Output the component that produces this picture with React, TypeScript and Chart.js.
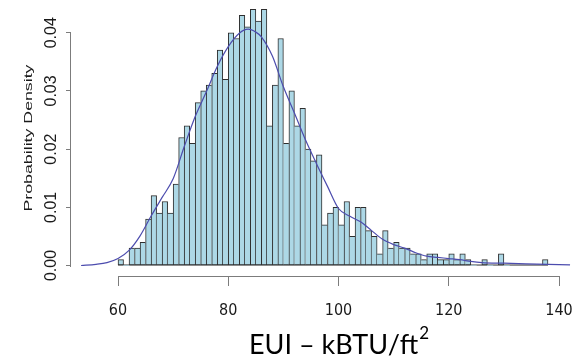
import React, { useEffect, useRef } from "react";
import { Chart, registerables } from "chart.js";

Chart.register(...registerables);

// ---- data ----
const binLefts = [
  60, 61, 62, 63, 64, 65, 66, 67, 68, 69, 70, 71, 72, 73, 74, 75, 76, 77, 78, 79,
  80, 81, 82, 83, 84, 85, 86, 87, 88, 89, 90, 91, 92, 93, 94, 95, 96, 97, 98, 99,
  100, 101, 102, 103, 104, 105, 106, 107, 108, 109, 110, 111, 112, 113, 114, 115, 116, 117, 118, 119,
  120, 121, 122, 123, 124, 125, 126, 127, 128, 129, 130, 131, 132, 133, 134, 135, 136, 137,
];
const binDensity = [
  0.001, 0, 0.003, 0.003, 0.004, 0.008, 0.012, 0.009, 0.011, 0.009,
  0.014, 0.022, 0.024, 0.021, 0.028, 0.030, 0.031, 0.033, 0.037, 0.032,
  0.040, 0.039, 0.043, 0.041, 0.044, 0.042, 0.044, 0.024, 0.031, 0.039,
  0.021, 0.030, 0.024, 0.027, 0.020, 0.018, 0.019, 0.007, 0.009, 0.010,
  0.007, 0.011, 0.005, 0.010, 0.010, 0.006, 0.005, 0.002, 0.006, 0.003,
  0.004, 0.003, 0.003, 0.002, 0.002, 0.001, 0.002, 0.002, 0.001, 0.001,
  0.002, 0.001, 0.002, 0.001, 0, 0, 0.001, 0, 0, 0.002,
  0, 0, 0, 0, 0, 0, 0, 0.001,
];
const binWidth = 1;

const curveX = [
  53.3, 56, 58, 60, 62, 64, 66, 68, 70, 72, 74, 76, 78, 80, 82, 83.6, 85, 86, 88, 90,
  92, 94, 96, 98, 100, 102, 104, 106, 108, 110, 112, 114, 116, 118, 120, 122, 124, 126, 130, 134,
  138, 142,
];
const curveY = [
  0, 0.0002, 0.0005, 0.0012, 0.0026, 0.0051, 0.0085, 0.0117, 0.0149, 0.0204,
  0.0256, 0.0298, 0.0342, 0.0376, 0.0399, 0.0406, 0.0401, 0.0393, 0.036, 0.0307,
  0.0262, 0.0216, 0.0175, 0.0136, 0.0098, 0.0085, 0.0075, 0.006, 0.0045, 0.0036,
  0.003, 0.0022, 0.0016, 0.0014, 0.0012, 0.001, 0.0007, 0.0005, 0.0004, 0.0003,
  0.0002, 0.0001,
];

const xTicks = [60, 80, 100, 120, 140];
const yTicks = [0, 0.01, 0.02, 0.03, 0.04];
const yTitle = "Probability Density";
const xTitleMain = "EUI – kBTU/ft";
const xTitleSup = "2";

// ---- styles ----
const BAR_FILL = "#ADD8E6";
const BAR_BORDER = "#2e2e2e";
const CURVE_COLOR = "#4c4cae";
const AXIS_COLOR = "#7c7c7c";
const TEXT_COLOR = "#1a1a1a";

const extraPlugin = {
  id: "extraText",
  beforeDatasetsDraw(chart: any) {
    const { ctx, scales } = chart;
    const x = scales.x;
    const y = scales.y;
    // histogram baseline (zero-height bins)
    const y0 = y.getPixelForValue(0);
    const x1 = x.getPixelForValue(binLefts[0]);
    const x2 = x.getPixelForValue(binLefts[binLefts.length - 1] + binWidth);
    ctx.save();
    ctx.fillStyle = BAR_BORDER;
    ctx.fillRect(x1, y0 - 1, x2 - x1, 1);
    ctx.restore();
  },
  afterDraw(chart: any) {
    const { ctx, scales, chartArea } = chart;
    const x = scales.x;
    const y = scales.y;
    ctx.save();
    // axis lines (R style, spanning ticks only)
    ctx.fillStyle = AXIS_COLOR;
    const xa = Math.round(x.getPixelForValue(xTicks[0]));
    const xb = Math.round(x.getPixelForValue(xTicks[xTicks.length - 1]));
    ctx.fillRect(xa, Math.round(chartArea.bottom), xb - xa + 1, 1);
    const ya = Math.round(y.getPixelForValue(yTicks[yTicks.length - 1]));
    const yb = Math.round(y.getPixelForValue(yTicks[0]));
    ctx.fillRect(Math.round(chartArea.left) - 1, ya, 1, yb - ya + 1);

    // y title (stretched along its length like the reference)
    ctx.fillStyle = TEXT_COLOR;
    ctx.translate(29, 138);
    ctx.rotate(-Math.PI / 2);
    ctx.font = '10px "Liberation Sans", Arial, sans-serif';
    const w = ctx.measureText(yTitle).width;
    ctx.scale(147 / w, 1);
    ctx.textAlign = "center";
    ctx.textBaseline = "middle";
    ctx.fillText(yTitle, 0, 0);
    ctx.restore();

    // x title with superscript
    ctx.save();
    ctx.fillStyle = "#000";
    ctx.textAlign = "left";
    ctx.textBaseline = "alphabetic";
    ctx.font = '27px Lato, "Open Sans", sans-serif';
    const w1 = ctx.measureText(xTitleMain).width;
    ctx.font = '17px Lato, "Open Sans", sans-serif';
    const w2 = ctx.measureText(xTitleSup).width;
    const left = 339 - (w1 + 1 + w2) / 2;
    ctx.font = '27px Lato, "Open Sans", sans-serif';
    ctx.fillText(xTitleMain, left, 354);
    ctx.font = '17px Lato, "Open Sans", sans-serif';
    ctx.fillText(xTitleSup, left + w1 + 1, 339);
    ctx.restore();
  },
};

export default function App() {
  const ref = useRef<HTMLCanvasElement>(null);

  useEffect(() => {
    if (!ref.current) return;
    const barData = binLefts.map((b, i) => ({ x: b + binWidth / 2, y: binDensity[i] }));
    const lineData = curveX.map((v, i) => ({ x: v, y: curveY[i] }));

    const chart = new Chart(ref.current, {
      type: "bar",
      data: {
        datasets: [
          {
            type: "line",
            data: lineData,
            borderColor: CURVE_COLOR,
            borderWidth: 1.2,
            pointRadius: 0,
            fill: false,
            cubicInterpolationMode: "monotone",
            order: 0,
          } as any,
          {
            type: "bar",
            data: barData,
            backgroundColor: BAR_FILL,
            borderColor: BAR_BORDER,
            borderSkipped: false,
            borderWidth: (c: any) => {
              const i = c.dataIndex;
              const v = binDensity[i];
              const prev = i > 0 ? binDensity[i - 1] : -1;
              const next = i < binDensity.length - 1 ? binDensity[i + 1] : -1;
              return { left: v >= prev ? 1 : 0, right: v > next ? 1 : 0, top: 1, bottom: 1 };
            },
            barPercentage: 1,
            categoryPercentage: 1,
            order: 1,
          } as any,
        ],
      },
      options: {
        animation: false,
        responsive: false,
        devicePixelRatio: 1,
        events: [],
        layout: { padding: { left: 0, right: 12, top: 0, bottom: 0 } },
        plugins: { legend: { display: false }, tooltip: { enabled: false }, title: { display: false } },
        scales: {
          x: {
            type: "linear",
            min: 51.47,
            max: 143.08,
            offset: false,
            border: { display: false },
            grid: {
              offset: false,
              drawOnChartArea: false,
              drawTicks: true,
              tickLength: 10,
              color: AXIS_COLOR,
              lineWidth: 1,
            },
            afterBuildTicks: (s: any) => {
              s.ticks = xTicks.map((v) => ({ value: v }));
            },
            afterFit: (s: any) => {
              s.height = 83;
              s.paddingLeft = 0;
              s.paddingRight = 0;
            },
            ticks: {
              autoSkip: false,
              maxRotation: 0,
              minRotation: 0,
              padding: 15,
              color: TEXT_COLOR,
              font: { family: "'Liberation Sans Narrow', 'DejaVu Sans Condensed', 'Liberation Sans', sans-serif", size: 16 },
              callback: (v: any) => String(v),
            },
          },
          y: {
            type: "linear",
            min: -0.0018,
            max: 0.04562,
            border: { display: false },
            grid: {
              drawOnChartArea: false,
              drawTicks: true,
              tickLength: 5,
              color: AXIS_COLOR,
              lineWidth: 1,
            },
            afterBuildTicks: (s: any) => {
              s.ticks = yTicks.map((v) => ({ value: v }));
            },
            afterFit: (s: any) => {
              s.width = 71;
              s.paddingTop = 0;
              s.paddingBottom = 0;
            },
            ticks: {
              autoSkip: false,
              minRotation: 90,
              maxRotation: 90,
              crossAlign: "center",
              padding: -1,
              color: TEXT_COLOR,
              font: { family: "'Liberation Sans', Arial, sans-serif", size: 16 },
              callback: (v: any) => Number(v).toFixed(2),
            },
          },
        },
      },
      plugins: [extraPlugin],
    } as any);

    return () => chart.destroy();
  }, []);

  return (
    <div style={{ position: "absolute", left: 0, top: 0, width: 588, height: 359 }}>
      <canvas ref={ref} width={588} height={359} style={{ display: "block" }} />
    </div>
  );
}
